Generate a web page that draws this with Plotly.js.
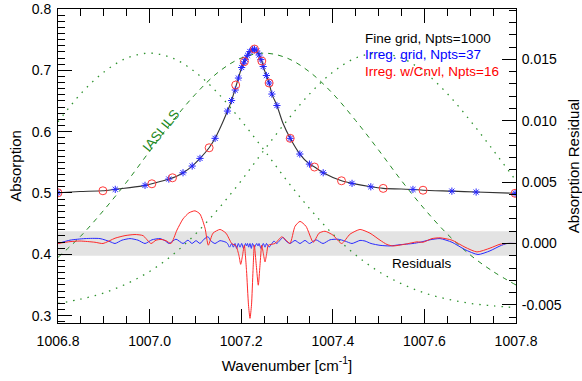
<!DOCTYPE html>
<html>
<head>
<meta charset="utf-8">
<script src="https://cdn.plot.ly/plotly-3.0.1.min.js"></script>
<style>html,body{margin:0;padding:0;background:#fff;}#chart{width:582px;height:381px;}</style>
</head>
<body>
<div id="chart"></div>
<script>
// ---- Fine grid spectrum (black line) ----
var fineWn = [1006.800, 1006.848, 1006.898, 1006.924, 1006.957, 1006.990, 1007.005, 1007.023, 1007.042, 1007.058, 1007.073, 1007.093, 1007.110, 1007.130, 1007.143, 1007.156, 1007.170, 1007.179, 1007.186, 1007.194, 1007.201, 1007.207, 1007.213, 1007.219, 1007.225, 1007.229, 1007.234, 1007.239, 1007.245, 1007.248, 1007.255, 1007.261, 1007.267, 1007.278, 1007.291, 1007.307, 1007.328, 1007.349, 1007.360, 1007.379, 1007.419, 1007.442, 1007.483, 1007.510, 1007.575, 1007.597, 1007.660, 1007.713, 1007.800];
var fineAbs = [0.5003, 0.5023, 0.5036, 0.5059, 0.5088, 0.5124, 0.5150, 0.5186, 0.5227, 0.5270, 0.5330, 0.5439, 0.5564, 0.5737, 0.5891, 0.6091, 0.6336, 0.6507, 0.6679, 0.6874, 0.7046, 0.7144, 0.7241, 0.7307, 0.7339, 0.7347, 0.7315, 0.7250, 0.7152, 0.7062, 0.6915, 0.6793, 0.6613, 0.6426, 0.6140, 0.5891, 0.5635, 0.5471, 0.5423, 0.5330, 0.5199, 0.5157, 0.5101, 0.5075, 0.5058, 0.5045, 0.5030, 0.5015, 0.4995];

// ---- Irregular grid, Npts=37 (blue stars) ----
var irrWn = [1006.800, 1006.925, 1006.990, 1007.042, 1007.073, 1007.093, 1007.110, 1007.143, 1007.170, 1007.179, 1007.187, 1007.194, 1007.201, 1007.205, 1007.209, 1007.214, 1007.219, 1007.225, 1007.229, 1007.234, 1007.239, 1007.243, 1007.248, 1007.255, 1007.261, 1007.267, 1007.278, 1007.307, 1007.328, 1007.349, 1007.379, 1007.442, 1007.483, 1007.575, 1007.660, 1007.713, 1007.798];
var irrAbs = [0.5003, 0.5059, 0.5124, 0.5227, 0.5330, 0.5439, 0.5564, 0.5891, 0.6336, 0.6507, 0.6679, 0.6874, 0.7046, 0.7115, 0.7180, 0.7245, 0.7307, 0.7339, 0.7345, 0.7315, 0.7250, 0.7175, 0.7062, 0.6915, 0.6793, 0.6613, 0.6426, 0.5891, 0.5635, 0.5471, 0.5330, 0.5157, 0.5101, 0.5058, 0.5030, 0.5015, 0.4995];

// ---- Irregular w/ convolution, Npts=16 (red circles) ----
var cnvWn = [1006.800, 1006.898, 1007.005, 1007.050, 1007.130, 1007.188, 1007.207, 1007.229, 1007.245, 1007.261, 1007.307, 1007.360, 1007.419, 1007.510, 1007.597, 1007.798];
var cnvAbs = [0.5003, 0.5036, 0.5150, 0.5248, 0.5737, 0.6760, 0.7144, 0.7347, 0.7152, 0.6793, 0.5891, 0.5423, 0.5199, 0.5075, 0.5045, 0.4995];

// ---- IASI ILS curves (green) ----
var ilsWn = [1006.80, 1006.85, 1006.90, 1006.95, 1007.00, 1007.05, 1007.10, 1007.15, 1007.20, 1007.25, 1007.30, 1007.35, 1007.40, 1007.45, 1007.50, 1007.55, 1007.60, 1007.65, 1007.70, 1007.75, 1007.80];
var ilsCenter = [0.395, 0.430, 0.472, 0.518, 0.568, 0.617, 0.661, 0.697, 0.720, 0.728, 0.720, 0.697, 0.662, 0.618, 0.570, 0.520, 0.474, 0.433, 0.399, 0.372, 0.350];
var ilsLeft = [0.616, 0.662, 0.697, 0.720, 0.728, 0.720, 0.697, 0.662, 0.618, 0.570, 0.520, 0.474, 0.433, 0.399, 0.372, 0.352, 0.337, 0.327, 0.320, 0.316, 0.313];
var ilsRight = [0.320, 0.327, 0.337, 0.352, 0.372, 0.399, 0.433, 0.474, 0.520, 0.570, 0.618, 0.662, 0.697, 0.720, 0.728, 0.720, 0.697, 0.662, 0.618, 0.570, 0.520];

// ---- Residuals (right axis) ----
var resCnvWn = [1006.8000, 1006.8262, 1006.8480, 1006.8808, 1006.8983, 1006.9245, 1006.9463, 1006.9681, 1006.9856, 1007.0031, 1007.0140, 1007.0249, 1007.0358, 1007.0467, 1007.0598, 1007.0729, 1007.0860, 1007.0991, 1007.1100, 1007.1210, 1007.1282, 1007.1384, 1007.1537, 1007.1668, 1007.1793, 1007.1886, 1007.1952, 1007.1989, 1007.2028, 1007.2068, 1007.2116, 1007.2159, 1007.2192, 1007.2225, 1007.2258, 1007.2286, 1007.2330, 1007.2373, 1007.2410, 1007.2448, 1007.2483, 1007.2520, 1007.2557, 1007.2592, 1007.2738, 1007.2884, 1007.2978, 1007.3066, 1007.3175, 1007.3284, 1007.3415, 1007.3574, 1007.3699, 1007.3830, 1007.4004, 1007.4194, 1007.4376, 1007.4594, 1007.4812, 1007.5031, 1007.5183, 1007.5314, 1007.5576, 1007.5838, 1007.5969, 1007.6166, 1007.6341, 1007.6603, 1007.6886, 1007.7148, 1007.7432, 1007.7651, 1007.7803, 1007.8000];
var resCnv = [0, 0.00015, 0.0002, 0.0001, 0, 0.00043, 0.00064, 0.00073, 0.00064, 0, 0.00027, 0.00033, 0.00023, 0, 0.0011, 0.0020, 0.0025, 0.00266, 0.0024, 0.00125, -0.00014, 0.00084, 0.00114, 0.00084, 0, -0.0002, -0.0010, -0.0017, -0.0010, -0.00014, -0.0022, -0.0050, -0.0061, -0.0050, -0.0022, -0.00014, -0.0018, -0.0034, -0.0018, -0.00014, -0.0008, -0.0015, -0.0008, -0.00014, 0, 0.00054, 0.00027, 0, 0.0014, 0.0018, 0.0014, 0.0001, 0.00084, 0.0010, 0.00068, 0, 0.00076, 0.00114, 0.00084, 0.00027, -0.00008, -0.0002, -0.00006, 0.00013, 0.0001, 0.0004, 0.00046, 0.00027, -0.0003, -0.00069, -0.00038, -0.00006, 0, 0];

var resIrrWn = [1006.8000, 1006.8262, 1006.8590, 1006.8917, 1006.9135, 1006.9245, 1006.9397, 1006.9572, 1006.9747, 1006.9900, 1007.0052, 1007.0227, 1007.0336, 1007.0424, 1007.0576, 1007.0729, 1007.0838, 1007.0926, 1007.1013, 1007.1100, 1007.1188, 1007.1275, 1007.1341, 1007.1428, 1007.1537, 1007.1668, 1007.1701, 1007.1745, 1007.1793, 1007.1828, 1007.1865, 1007.1900, 1007.1937, 1007.1974, 1007.2011, 1007.2050, 1007.2094, 1007.2116, 1007.2138, 1007.2164, 1007.2192, 1007.2221, 1007.2247, 1007.2290, 1007.2338, 1007.2367, 1007.2389, 1007.2432, 1007.2483, 1007.2520, 1007.2552, 1007.2607, 1007.2672, 1007.2716, 1007.2775, 1007.2913, 1007.2978, 1007.3066, 1007.3175, 1007.3284, 1007.3393, 1007.3491, 1007.3633, 1007.3786, 1007.3939, 1007.4114, 1007.4266, 1007.4419, 1007.4594, 1007.4703, 1007.4834, 1007.5031, 1007.5249, 1007.5467, 1007.5751, 1007.5904, 1007.6122, 1007.6341, 1007.6603, 1007.6886, 1007.7170, 1007.7432, 1007.7651, 1007.7803, 1007.8000];
var resIrr = [0, 0.00027, 0.0004, 0.0004, 0.00015, 0, 0.00027, 0.0004, 0.00027, 0, 0.0003, 0.0004, 0.00023, 0, 0.00035, 0, 0.00027, 0, 0.00023, 0, 0.00035, 0.00055, 0.0002, 0, 0.00023, 0.0001, 0, -0.0003, 0, -0.0003, 0, -0.0004, 0, -0.0003, 0, -0.0004, 0, -0.0002, 0, -0.0003, 0, -0.0004, 0, -0.0003, 0, -0.0002, 0, -0.0004, 0, -0.0003, 0, -0.0003, 0, 0.0002, 0, 0.0005, 0.0002, 0, 0.00025, 0, 0.00025, 0, 0.0003, 0, 0.0003, 0.00035, 0.0002, 0, 0.00025, 0.0002, 0, -0.00015, -0.0002, -0.0001, 0, 0.0001, 0.0003, 0.0004, 0.0001, -0.0005, -0.0009, -0.0006, -0.0002, 0, 0];

// ---- Axis ticks ----
var xTickVals = [1006.8, 1007.0, 1007.2, 1007.4, 1007.6, 1007.8];
var xTickText = ['1006.8', '1007.0', '1007.2', '1007.4', '1007.6', '1007.8'];
var yTickVals = [0.3, 0.4, 0.5, 0.6, 0.7, 0.8];
var yTickText = ['0.3', '0.4', '0.5', '0.6', '0.7', '0.8'];
var y2TickVals = [-0.005, 0.0, 0.005, 0.010, 0.015];
var y2TickText = ['-0.005', '0.000', '0.005', '0.010', '0.015'];

var FONT = 'Liberation Sans, Arial, Helvetica, sans-serif';
var GREEN = '#2f932f';

var traces = [
  {x: ilsWn, y: ilsLeft, mode: 'lines', line: {color: GREEN, width: 1.3, dash: '1.5px,6px', shape: 'spline'}, hoverinfo: 'skip'},
  {x: ilsWn, y: ilsRight, mode: 'lines', line: {color: GREEN, width: 1.3, dash: '1.5px,6px', shape: 'spline'}, hoverinfo: 'skip'},
  {x: ilsWn, y: ilsCenter, mode: 'lines', line: {color: '#248a24', width: 1, dash: '5px,5px', shape: 'spline'}, hoverinfo: 'skip'},
  {x: resIrrWn, y: resIrr, yaxis: 'y2', mode: 'lines', line: {color: '#2a2aff', width: 1, shape: 'spline', smoothing: 0.6}},
  {x: resCnvWn, y: resCnv, yaxis: 'y2', mode: 'lines', line: {color: '#ff2a2a', width: 1, shape: 'spline', smoothing: 0.6}},
  {x: fineWn, y: fineAbs, mode: 'lines', line: {color: '#333333', width: 1.1, shape: 'spline', smoothing: 0.6}},
  {x: irrWn, y: irrAbs, mode: 'markers', marker: {symbol: 'asterisk-open', size: 6, color: '#2525ff', line: {color: '#2525ff', width: 1}}},
  {x: cnvWn, y: cnvAbs, mode: 'markers', marker: {symbol: 'circle-open', size: 8, color: '#ff3a3a', line: {color: '#ff3a3a', width: 1}}}
];

var layout = {
  width: 582, height: 381,
  margin: {l: 58, r: 66, t: 9, b: 58, pad: 0},
  paper_bgcolor: '#ffffff', plot_bgcolor: '#ffffff',
  showlegend: false,
  font: {family: FONT, size: 14, color: '#000'},
  xaxis: {
    range: [1006.8, 1007.8], tickvals: xTickVals, ticktext: xTickText,
    ticks: 'inside', ticklen: 14, tickwidth: 1, tickcolor: '#000', ticklabelstandoff: 5,
    minor: {dtick: 0.05, tick0: 1006.8, ticks: 'inside', ticklen: 7, tickwidth: 1, tickcolor: '#000'},
    showline: true, linecolor: '#000', linewidth: 1, mirror: 'ticks',
    showgrid: false, zeroline: false, tickfont: {size: 14},
    title: {text: 'Wavenumber [cm<sup>-1</sup>]', font: {size: 15}, standoff: 12}
  },
  yaxis: {
    range: [0.288, 0.8], tickvals: yTickVals, ticktext: yTickText,
    ticks: 'inside', ticklen: 14, tickwidth: 1, tickcolor: '#000', ticklabelstandoff: 3,
    minor: {dtick: 0.01, tick0: 0.3, ticks: 'inside', ticklen: 7, tickwidth: 1, tickcolor: '#000'},
    showline: true, linecolor: '#000', linewidth: 1,
    showgrid: false, zeroline: false, tickfont: {size: 14},
    title: {text: 'Absorption', font: {size: 15}, standoff: 6}
  },
  yaxis2: {
    overlaying: 'y', side: 'right',
    range: [-0.00648, 0.01911], tickvals: y2TickVals, ticktext: y2TickText,
    ticks: 'inside', ticklen: 14, tickwidth: 1, tickcolor: '#000', ticklabelstandoff: 2,
    minor: {dtick: 0.001, tick0: 0, ticks: 'inside', ticklen: 7, tickwidth: 1, tickcolor: '#000'},
    showline: true, linecolor: '#000', linewidth: 1,
    showgrid: false, zeroline: false, tickfont: {size: 14},
    title: {text: 'Absorption Residual', font: {size: 15}, standoff: 8}
  },
  shapes: [
    {type: 'rect', xref: 'paper', yref: 'y2', x0: 0, x1: 1, y0: -0.001, y1: 0.001,
     fillcolor: '#e3e3e3', line: {width: 0}, layer: 'below'}
  ],
  annotations: [
    {xref: 'paper', yref: 'paper', x: 0.666, y: 0.9076, xanchor: 'left', yanchor: 'middle', showarrow: false,
     text: 'Fine grid, Npts=1000', font: {size: 13.5, color: '#000'}},
    {xref: 'paper', yref: 'paper', x: 0.666, y: 0.855, xanchor: 'left', yanchor: 'middle', showarrow: false,
     text: 'Irreg. grid, Npts=37', font: {size: 13.5, color: '#0000ff'}},
    {xref: 'paper', yref: 'paper', x: 0.666, y: 0.8024, xanchor: 'left', yanchor: 'middle', showarrow: false,
     text: 'Irreg. w/Cnvl, Npts=16', font: {size: 13.5, color: '#ff0000'}},
    {xref: 'paper', yref: 'paper', x: 0.794, y: 0.1894, xanchor: 'center', yanchor: 'middle', showarrow: false,
     text: 'Residuals', font: {size: 13.5, color: '#000'}},
    {xref: 'paper', yref: 'paper', x: 0.225, y: 0.6143, xanchor: 'center', yanchor: 'middle', showarrow: false,
     text: 'IASI ILS', textangle: -51, font: {size: 13.5, color: '#1f8a1f'}}
  ]
};

Plotly.newPlot('chart', traces, layout, {staticPlot: true, displayModeBar: false});
</script>
</body>
</html>
